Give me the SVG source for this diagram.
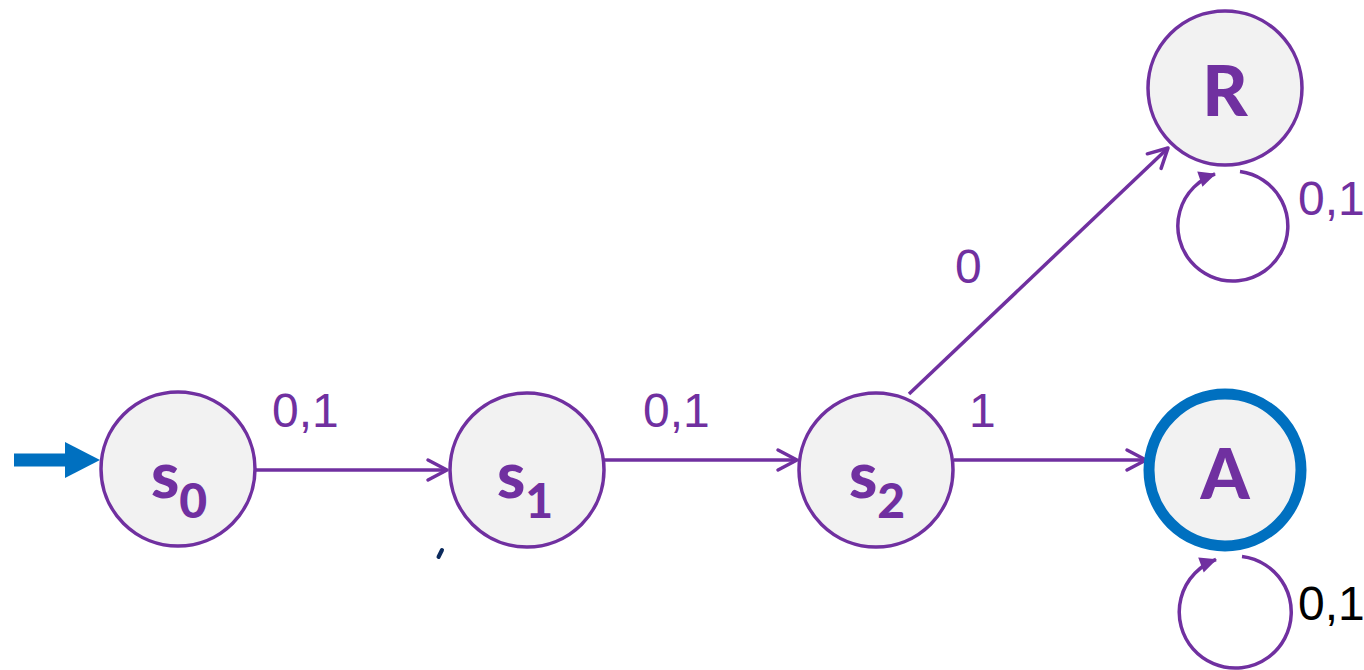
<svg xmlns="http://www.w3.org/2000/svg" width="1364" height="670" viewBox="0 0 1364 670">
<style>
.node{fill:#f2f2f2;stroke:#7030a0;stroke-width:3.5}
.acc{fill:#f2f2f2;stroke:#0070c0;stroke-width:11}
.nl{font-family:Lato,"Liberation Sans",sans-serif;font-weight:900;fill:#7030a0}
.el{font-family:"Liberation Sans",Arial,sans-serif;font-size:48px;fill:#7030a0}
.edge{fill:none;stroke:#7030a0;stroke-width:3.5}
</style>
<defs>
<marker id="open" viewBox="-25 -15 30 30" refX="0" refY="0" markerWidth="30" markerHeight="30" markerUnits="userSpaceOnUse" orient="auto">
<path d="M-19,-10 L0,0 L-19,10" fill="none" stroke="#7030a0" stroke-width="3.5" stroke-linecap="round" stroke-linejoin="round"/>
</marker>
<marker id="fill" viewBox="-20 -10 22 20" refX="0" refY="0" markerWidth="22" markerHeight="20" markerUnits="userSpaceOnUse" orient="auto">
<path d="M-16,-8 L1,0 L-16,8 Z" fill="#7030a0"/>
</marker>
</defs>
<rect width="1364" height="670" fill="#ffffff"/>
<g id="connectors">
<path d="M14,460 H66" stroke="#0070c0" stroke-width="13" fill="none"/>
<path d="M65,442 L100,460 L65,478 Z" fill="#0070c0"/>
<path class="edge" d="M256,470 H447" marker-end="url(#open)"/>
<path class="edge" d="M604,460 H797" marker-end="url(#open)"/>
<path class="edge" d="M954,460 H1146" marker-end="url(#open)"/>
<path class="edge" d="M909,394 L1168,148" marker-end="url(#open)"/>
<path class="edge" d="M1240,171.5 A55,55 0 1 1 1215,174" marker-end="url(#fill)"/>
<path class="edge" d="M1242,556.5 A56,56 0 1 1 1216,559.5" marker-end="url(#fill)"/>
<text class="el" x="272" y="427">0,1</text>
<text class="el" x="643" y="427">0,1</text>
<text class="el" x="969" y="427">1</text>
<text class="el" x="955" y="283">0</text>
<text class="el" x="1298" y="215">0,1</text>
<text class="el" x="1298" y="620" style="fill:#000000">0,1</text>
</g>
<g id="s0">
<circle class="node" cx="178" cy="469" r="77"/>
<text class="nl" x="179" y="498" font-size="64" text-anchor="middle">s<tspan dy="20" font-size="48">0</tspan></text>
</g>
<g id="s1">
<circle class="node" cx="527" cy="470" r="77"/>
<text class="nl" x="525" y="498" font-size="64" text-anchor="middle">s<tspan dy="20" font-size="48">1</tspan></text>
</g>
<g id="s2">
<circle class="node" cx="876" cy="470" r="77"/>
<text class="nl" x="877" y="498" font-size="64" text-anchor="middle">s<tspan dy="20" font-size="48">2</tspan></text>
</g>
<g id="R">
<circle class="node" cx="1225" cy="88" r="77"/>
<text class="nl" x="1225" y="116" font-size="70" text-anchor="middle">R</text>
</g>
<g id="A">
<circle class="acc" cx="1225" cy="470" r="76"/>
<text class="nl" x="1225" y="499" font-size="70" text-anchor="middle">A</text>
</g>
<path d="M442,550 L438.5,557" stroke="#0b2a5c" stroke-width="4" stroke-linecap="round"/>
</svg>
